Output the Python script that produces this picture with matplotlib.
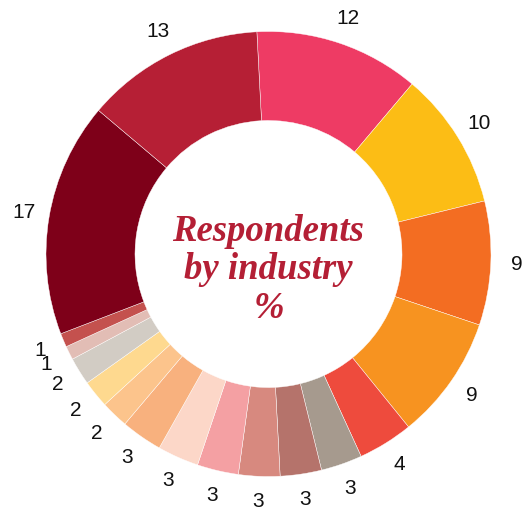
import matplotlib.pyplot as plt
import numpy as np

# industry shares, clockwise from the top
values = [12, 10, 9, 9, 4, 3, 3, 3, 3, 3, 3, 2, 2, 2, 1, 1, 17, 13]
colors = ['#EE3B64', '#FCBD15', '#F36D22', '#F79320', '#EE4B3D', '#A69A8E',
          '#B5736B', '#D7897F', '#F4A0A3', '#FCD7C8', '#F8B17E', '#FCC48C',
          '#FED98F', '#D2CCC4', '#E2BDB5', '#C4514E', '#7E0019', '#B61F35']
labels = [str(v) for v in values]

fig = plt.figure(figsize=(5.23, 5.15), dpi=100)
ax = fig.add_axes([0, 0, 1, 1])

wedges, texts = ax.pie(values, colors=colors, labels=labels, startangle=93,
                       counterclock=False, radius=1, labeldistance=1.115,
                       wedgeprops=dict(width=0.4, edgecolor='white', linewidth=0.3),
                       textprops=dict(fontsize=15, family='Liberation Sans', color='#111111'))
for t in texts:
    t.set_horizontalalignment('center')
    t.set_verticalalignment('center')

# map data units to pixels: centre at (268.5, 254) px from top, radius 222.5 px
r = 222.5
cx, cy = 268.5, 515 - 254
ax.set_xlim(-cx / r, (523 - cx) / r)
ax.set_ylim(-cy / r, (515 - cy) / r)
ax.set_aspect('auto')
ax.axis('off')

ax.text(0, -0.07, 'Respondents\nby industry\n%', ha='center', va='center',
        fontsize=26.5, family='Liberation Serif', fontweight='bold', fontstyle='italic',
        color='#B41F35', linespacing=1.13)

fig.savefig('out.png', dpi=100)
